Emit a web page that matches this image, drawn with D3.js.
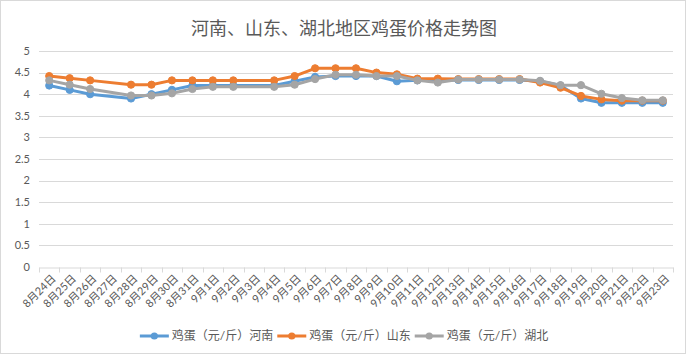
<!DOCTYPE html>
<html><head><meta charset="utf-8">
<script src="https://cdn.jsdelivr.net/npm/d3@7"></script>
<style>
html,body{margin:0;padding:0;background:#fff;}
svg{display:block;font-family:Lato,"Noto Sans CJK SC",sans-serif;}
</style></head>
<body>
<svg id="chart" width="688" height="356"></svg>
<script>
const title = "河南、山东、湖北地区鸡蛋价格走势图";
const categories = ["8月24日","8月25日","8月26日","8月27日","8月28日","8月29日","8月30日","8月31日",
  "9月1日","9月2日","9月3日","9月4日","9月5日","9月6日","9月7日","9月8日","9月9日","9月10日",
  "9月11日","9月12日","9月13日","9月14日","9月15日","9月16日","9月17日","9月18日","9月19日",
  "9月20日","9月21日","9月22日","9月23日"];
const henan =    [4.2,4.1,4.0,null,3.9,4.0,4.1,4.2,4.2,4.2,null,4.2,4.3,4.4,4.42,4.42,4.42,4.3,4.32,4.32,4.33,4.33,4.33,4.33,4.3,4.2,3.9,3.8,3.8,3.8,3.8];
const shandong = [4.42,4.37,4.32,null,4.22,4.22,4.32,4.32,4.32,4.32,null,4.32,4.42,4.6,4.6,4.6,4.5,4.46,4.36,4.36,4.35,4.35,4.35,4.35,4.27,4.15,3.96,3.88,3.85,3.85,3.85];
const hubei =    [4.32,4.22,4.12,null,3.97,3.97,4.02,4.12,4.17,4.17,null,4.17,4.22,4.35,4.45,4.45,4.42,4.42,4.32,4.27,4.34,4.34,4.34,4.34,4.31,4.21,4.21,4.01,3.91,3.86,3.86];
const seriesNames = ["鸡蛋（元/斤）河南","鸡蛋（元/斤）山东","鸡蛋（元/斤）湖北"];
const seriesColors = ["#5B9BD5","#ED7D31","#A5A5A5"];
const yTicks = [0,0.5,1,1.5,2,2.5,3,3.5,4,4.5,5];

const W = 688, H = 356;
const svg = d3.select("#chart");
svg.append("rect").attr("x",0.5).attr("y",0.5).attr("width",W-3).attr("height",H-3)
  .attr("fill","#fff").attr("stroke","#d9d9d9");

const x = d3.scaleBand().domain(categories).range([39,673]).padding(0);
const y = d3.scaleLinear().domain([0,5]).range([267,51]);

svg.append("text").attr("x",344).attr("y",28).attr("text-anchor","middle")
  .attr("dominant-baseline","central").attr("font-size",18).attr("fill","#595959").text(title);

// gridlines
svg.append("g").selectAll("line").data(yTicks.filter(d=>d>0)).join("line")
  .attr("x1",39).attr("x2",673).attr("y1",d=>Math.round(y(d))+0.5).attr("y2",d=>Math.round(y(d))+0.5)
  .attr("stroke","#d9d9d9").attr("stroke-width",1);

// y labels
svg.append("g").selectAll("text").data(yTicks).join("text")
  .attr("x",30).attr("y",d=>y(d)).attr("dy","0.35em").attr("text-anchor","end")
  .attr("font-size",11).attr("fill","#595959").text(d=>d);

// x axis
const xAxis = d3.axisBottom(x).tickSize(0).tickFormat("");
const gx = svg.append("g").attr("transform",`translate(0,${Math.round(y(0))+0.5})`).call(xAxis);
gx.select(".domain").attr("stroke","#d9d9d9");
const bounds = d3.range(categories.length+1).map(i=>39 + i*x.bandwidth());
gx.selectAll(".bt").data(bounds).join("line").attr("class","bt")
  .attr("x1",d=>Math.round(d)+0.5).attr("x2",d=>Math.round(d)+0.5).attr("y1",0).attr("y2",5)
  .attr("stroke","#d9d9d9");
svg.append("g").selectAll("text").data(categories).join("text")
  .attr("transform",d=>`translate(${x(d)+x.bandwidth()/2+4},276) rotate(-45)`)
  .attr("text-anchor","end").attr("dominant-baseline","central")
  .attr("font-size",11).attr("fill","#595959").text(d=>d);

// series
const allSeries = [henan, shandong, hubei];
const line = d3.line().x(d=>x(d.c)+x.bandwidth()/2).y(d=>y(d.v));
allSeries.forEach((vals,i)=>{
  const pts = vals.map((v,j)=>({c:categories[j],v})).filter(d=>d.v!==null);
  const g = svg.append("g");
  g.append("path").datum(pts).attr("d",line).attr("fill","none")
    .attr("stroke",seriesColors[i]).attr("stroke-width",3).attr("stroke-linejoin","round").attr("stroke-linecap","round");
  g.selectAll("circle").data(pts).join("circle")
    .attr("cx",d=>x(d.c)+x.bandwidth()/2).attr("cy",d=>y(d.v)).attr("r",3.6)
    .attr("fill",seriesColors[i]).attr("stroke",seriesColors[i]).attr("stroke-width",1);
});

// legend
const lg = svg.append("g");
const items = seriesNames.map((n,i)=>{
  const g = lg.append("g");
  g.append("line").attr("x1",0).attr("x2",29).attr("y1",0).attr("y2",0)
    .attr("stroke",seriesColors[i]).attr("stroke-width",3);
  g.append("circle").attr("cx",14.5).attr("cy",0).attr("r",3.6).attr("fill",seriesColors[i]);
  const t = g.append("text").attr("x",32).attr("y",0).attr("dy","0.35em")
    .attr("font-size",12).attr("fill","#595959").text(n);
  return {g, w: 32 + t.node().getComputedTextLength()};
});
const gap = 4;
const total = d3.sum(items,d=>d.w) + gap*(items.length-1);
let cx = 344 - total/2;
items.forEach(it=>{ it.g.attr("transform",`translate(${cx},336)`); cx += it.w + gap; });
</script>
</body></html>
